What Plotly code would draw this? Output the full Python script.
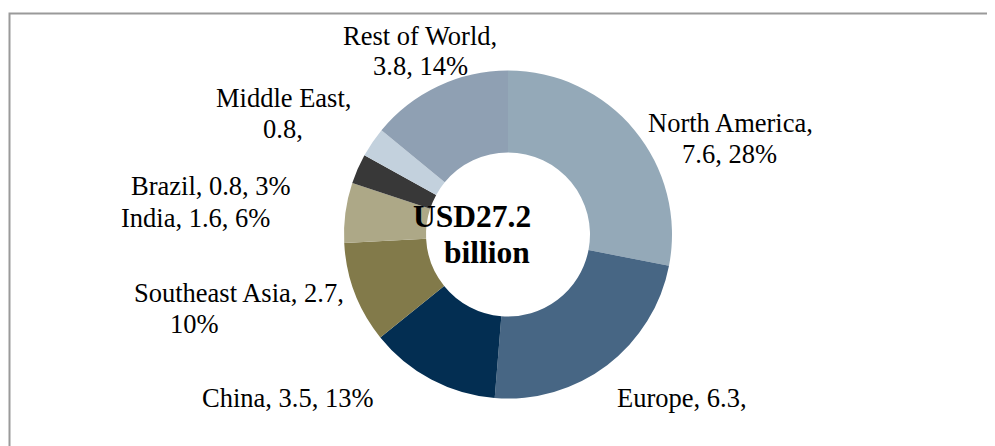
import plotly.graph_objects as go

# browser body margin offsets the figure by 8px; size the figure to the visible area
OFF = 8
W, H = 995 - OFF, 446 - OFF

# ---- data ----
regions = ["North America", "Europe", "China", "Southeast Asia", "India",
           "Brazil", "Middle East", "Rest of World"]
values = [7.6, 6.3, 3.5, 2.7, 1.6, 0.8, 0.8, 3.8]
pct_labels = ["28%", "23%", "13%", "10%", "6%", "3%", "3%", "14%"]
colors = ["#94A9B8", "#476684", "#032E52", "#827A4A", "#ADA887",
          "#383838", "#C3D1DD", "#8FA0B3"]
center_lines = ["USD27.2", "billion"]

# label lines as shown in the chart (some are cut off in the original)
label_lines = {
    "North America": ["North America,", "7.6, 28%"],
    "Europe": ["Europe, 6.3,"],
    "China": ["China, 3.5, 13%"],
    "Southeast Asia": ["Southeast Asia, 2.7,", "10%"],
    "India": ["India, 1.6, 6%"],
    "Brazil": ["Brazil, 0.8, 3%"],
    "Middle East": ["Middle East,", "0.8,"],
    "Rest of World": ["Rest of World,", "3.8, 14%"],
}
# pixel anchor (center x, baseline y) for each line, in screenshot coordinates
label_pos = {
    "North America": [(730.5, 132), (729, 163)],
    "Europe": [(682, 407)],
    "China": [(288, 407)],
    "Southeast Asia": [(239, 302), (194.5, 333)],
    "India": [(195.5, 227)],
    "Brazil": [(210.5, 195)],
    "Middle East": [(283.5, 107), (283, 138)],
    "Rest of World": [(420, 45), (420, 75)],
}
center_pos = [(471.5, 227), (487, 263)]

FONT = "Liberation Serif, Times New Roman, serif"
FS = 26.5
CFS = 31.5

cx, cy, R = 508 - OFF, 234.5 - OFF, 164

fig = go.Figure(go.Pie(
    labels=regions, values=values, sort=False, direction="clockwise",
    rotation=0, hole=0.5, textinfo="none", hoverinfo="skip",
    marker=dict(colors=colors, line=dict(width=0)),
    domain=dict(x=[(cx - R) / W, (cx + R) / W],
                y=[(H - cy - R) / H, (H - cy + R) / H]),
    showlegend=False,
))

def px2paper(x, y):
    return (x - OFF) / W, 1 - (y - OFF) / H

annotations = []
for name in regions:
    for text, (x, base) in zip(label_lines[name], label_pos[name]):
        px, py = px2paper(x, base - 0.3375 * FS)
        annotations.append(dict(x=px, y=py, xref="paper", yref="paper",
                                text=text, showarrow=False, xanchor="center",
                                yanchor="middle", borderpad=0,
                                font=dict(family=FONT, size=FS, color="#000000")))
for text, (x, base) in zip(center_lines, center_pos):
    px, py = px2paper(x, base - 0.3375 * CFS)
    annotations.append(dict(x=px, y=py, xref="paper", yref="paper",
                            text="<b>" + text + "</b>", showarrow=False,
                            xanchor="center", yanchor="middle", borderpad=0,
                            font=dict(family=FONT, size=CFS, color="#000000")))

bx0, by0 = px2paper(9.5, 13.5)
fig.update_layout(
    width=W, height=H, margin=dict(l=0, r=0, t=0, b=0),
    paper_bgcolor="white", plot_bgcolor="white",
    annotations=annotations,
    shapes=[dict(type="rect", xref="paper", yref="paper",
                 x0=bx0, x1=1.05, y0=-0.05, y1=by0,
                 line=dict(color="#9a9a9a", width=2), layer="below")],
)

fig.write_html("out.html")
